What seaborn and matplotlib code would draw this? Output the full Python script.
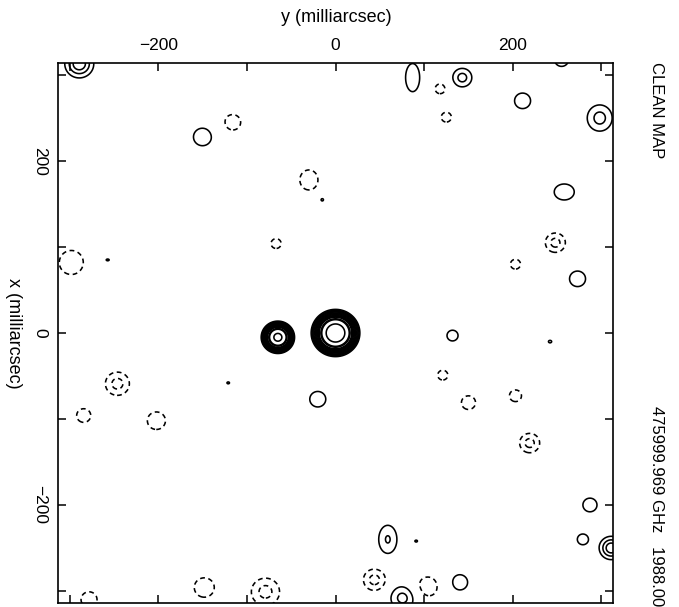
import numpy as np
import matplotlib
matplotlib.use("Agg")
import matplotlib.pyplot as plt
import seaborn as sns

# ---- faint components: horizontal offset (y, mas), vertical offset (x, mas),
#      peak (relative), width along y, width along x (mas)
faint_y = [-289, 87, 143, 255, 211, 298, -150, 258, 273, 132, -20, 287, 279, 311,
           59, 140, 76, -15, -257, -121, 242, 91,
           -116, 118, 125, -30, -67, -298, 248, 203, 121, 150, 203, 219, -246,
           -284, -202, -148, -79, 44, 104, -278]
faint_x = [313, 297, 297, 318, 270, 250, 228, 164, 63, -3, -77, -200, -240, -250,
           -240, -290, -308, 155, 85, -58, -10, -242,
           245, 284, 251, 178, 104, 82, 105, 80, -49, -81, -73, -128, -59,
           -96, -102, -296, -301, -287, -295, -310]
faint_amp = [3.8, 1.5, 2.4, 1.5, 1.5, 2.4, 1.5, 1.5, 1.5, 1.5, 1.5, 1.5, 1.5, 3.8,
             2.1, 1.5, 2.4, 1.3, 1.3, 1.3, 1.3, 1.3,
             -1.5, -1.5, -1.5, -1.5, -1.5, -1.5, -2.4, -1.5, -1.5, -1.5, -1.5, -2.4, -2.4,
             -1.5, -1.5, -1.5, -2.4, -2.4, -1.5, -1.5]
faint_sy = [10.0, 8.8, 8.1, 8.8, 10.0, 10.6, 11.3, 12.5, 10.0, 6.9, 10.0, 8.8, 6.9, 8.3,
            8.4, 10.0, 10.3, 2.5, 2.5, 2.0, 2.5, 2.0,
            10.0, 6.3, 6.3, 11.3, 6.3, 15.0, 8.5, 6.3, 6.3, 8.8, 7.5, 8.5, 10.2,
            8.8, 11.3, 12.5, 12.0, 9.4, 12.5, 10.0]
faint_sx = [10.0, 18.1, 8.1, 8.8, 10.0, 11.5, 11.3, 10.3, 10.0, 6.9, 10.0, 8.8, 6.9, 8.3,
            13.4, 10.0, 10.3, 2.5, 1.5, 1.5, 2.0, 1.5,
            10.0, 6.3, 6.3, 12.9, 6.3, 15.5, 8.5, 6.3, 6.3, 8.8, 7.5, 8.5, 10.2,
            8.8, 11.3, 12.5, 12.0, 9.4, 12.5, 10.0]

# ---- bright components
bright_y = [0, -65]
bright_x = [0, -5]
bright_amp = [100.0, 70.0]
bright_sig = [10.0, 7.2]

faint_levels = [-2, -1, 1, 2, 3]
bright_levels = [2.3, 3.1, 4.0, 5.1, 6.5, 8.1, 10.1, 12.5, 15.2, 18.4, 25.6, 30.1, 57.6]

tick_pos = [-300, -200, -100, 0, 100, 200, 300]
tick_lab = ["", "\u2212200", "", "0", "", "200", ""]

sns.set_style("ticks")
plt.rcParams['font.family'] = ['Liberation Sans', 'DejaVu Sans']
plt.rcParams['text.color'] = 'black'
plt.rcParams['lines.dashed_pattern'] = [3.0, 2.2]

W, H = 679, 607
fig = plt.figure(figsize=(W / 100, H / 100), dpi=100)
ax = fig.add_axes([58 / W, 1 - 603 / H, 555 / W, 540 / H])

gy = np.linspace(-340, 340, 1361)
gx = np.linspace(-340, 340, 1361)
GY, GX = np.meshgrid(gy, gx)


def field(ys, xs, amps, sys_, sxs):
    f = np.zeros_like(GY)
    for y0, x0, a, sy, sx in zip(ys, xs, amps, sys_, sxs):
        f += a * np.exp(-((GY - y0) ** 2 / (2 * sy ** 2) + (GX - x0) ** 2 / (2 * sx ** 2)))
    return f


F1 = field(faint_y, faint_x, faint_amp, faint_sy, faint_sx)
F2 = field(bright_y, bright_x, bright_amp, bright_sig, bright_sig)

ls1 = ['dashed' if l < 0 else 'solid' for l in faint_levels]
ax.contour(GY, GX, F1, levels=faint_levels, colors='black', linewidths=1.15, linestyles=ls1)
ax.contour(GY, GX, F2, levels=bright_levels, colors='black', linewidths=1.15, linestyles='solid')

ax.set_xlim(-313, 313)
ax.set_ylim(-314, 314)

ax.set_xticks(tick_pos)
ax.set_xticklabels(tick_lab, fontsize=12.5)
ax.set_yticks(tick_pos)
ax.set_yticklabels(tick_lab, fontsize=12.5, rotation=-90, va='center')
ax.xaxis.tick_top()
ax.tick_params(axis='both', direction='in', length=6, width=1.1, color='black',
               labelcolor='black',
               top=True, bottom=True, left=True, right=True,
               labeltop=True, labelbottom=False, labelleft=True, labelright=False)
ax.tick_params(axis='x', pad=7)
ax.tick_params(axis='y', pad=8)
for s in ax.spines.values():
    s.set_linewidth(1.2)
    s.set_color('black')

fig.text(336 / W, 1 - 17 / H, "y (milliarcsec)", ha='center', va='center', fontsize=13,
         color='black')
fig.text(13 / W, 1 - 333 / H, "x (milliarcsec)", ha='center', va='center', fontsize=13,
         rotation=-90, color='black')
fig.text(656 / W, 1 - 62 / H, "CLEAN MAP", ha='center', va='top', fontsize=12,
         rotation=-90, color='black')
fig.text(656 / W, 1 - 606 / H, "475999.969 GHz   1988.00", ha='center', va='bottom',
         fontsize=12, rotation=-90, color='black')

fig.savefig("out.png", dpi=100)
